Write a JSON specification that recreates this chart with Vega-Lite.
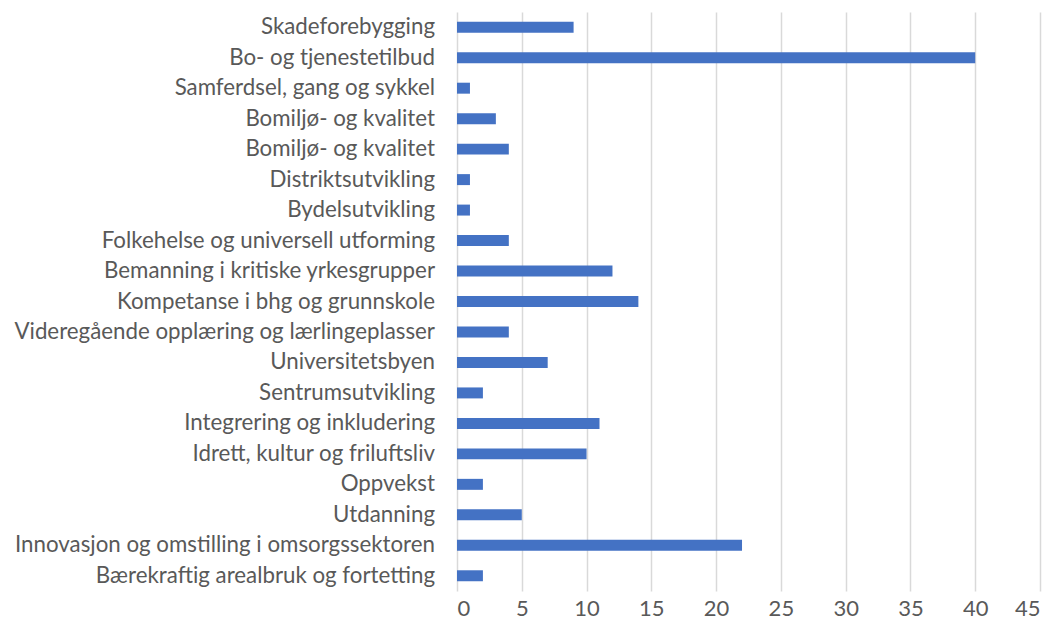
{
  "$schema": "https://vega.github.io/schema/vega-lite/v6.json",
  "autosize": {"type": "none"},
  "padding": {"left": 457, "top": 12, "right": 15, "bottom": 41},
  "width": 583,
  "height": 579,
  "background": "white",
  "config": {"view": {"stroke": null}, "font": "Lato"},
  "data": {"values": [
    {"rank": 1, "label": "Skadeforebygging", "value": 9},
    {"rank": 2, "label": "Bo- og tjenestetilbud", "value": 40},
    {"rank": 3, "label": "Samferdsel, gang og sykkel", "value": 1},
    {"rank": 4, "label": "Bomiljø- og kvalitet", "value": 3},
    {"rank": 5, "label": "Bomiljø- og kvalitet", "value": 4},
    {"rank": 6, "label": "Distriktsutvikling", "value": 1},
    {"rank": 7, "label": "Bydelsutvikling", "value": 1},
    {"rank": 8, "label": "Folkehelse og universell utforming", "value": 4},
    {"rank": 9, "label": "Bemanning i kritiske yrkesgrupper", "value": 12},
    {"rank": 10, "label": "Kompetanse i bhg og grunnskole", "value": 14},
    {"rank": 11, "label": "Videregående opplæring og lærlingeplasser", "value": 4},
    {"rank": 12, "label": "Universitetsbyen", "value": 7},
    {"rank": 13, "label": "Sentrumsutvikling", "value": 2},
    {"rank": 14, "label": "Integrering og inkludering", "value": 11},
    {"rank": 15, "label": "Idrett, kultur og friluftsliv", "value": 10},
    {"rank": 16, "label": "Oppvekst", "value": 2},
    {"rank": 17, "label": "Utdanning", "value": 5},
    {"rank": 18, "label": "Innovasjon og omstilling i omsorgssektoren", "value": 22},
    {"rank": 19, "label": "Bærekraftig arealbruk og fortetting", "value": 2}
  ]},
  "encoding": {
    "y": {
      "field": "rank", "type": "ordinal",
      "scale": {"paddingInner": 0.64, "paddingOuter": 0.32},
      "axis": null
    }
  },
  "layer": [
    {
      "mark": {"type": "bar", "color": "#4472C4"},
      "encoding": {
        "x": {
          "field": "value", "type": "quantitative",
          "scale": {"domain": [0, 45], "nice": false},
          "axis": {
            "values": [0, 5, 10, 15, 20, 25, 30, 35, 40, 45],
            "title": null, "domain": false, "ticks": false,
            "grid": true, "gridColor": "#d9d9d9", "gridWidth": 1.5,
            "labelFont": "Lato", "labelFontSize": 22, "labelColor": "#595959",
            "labelPadding": 7
          }
        }
      }
    },
    {
      "mark": {"type": "text", "align": "right", "baseline": "middle", "dx": -22, "font": "Lato", "fontSize": 22.3, "color": "#595959"},
      "encoding": {
        "x": {"datum": 0, "type": "quantitative"},
        "text": {"field": "label"}
      }
    }
  ]
}
